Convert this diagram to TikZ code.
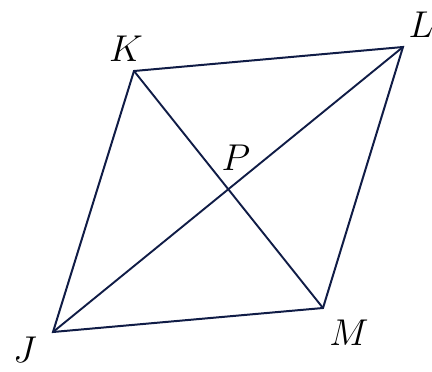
\documentclass[tikz,border=0pt]{standalone}
\usepackage{amsmath}
\usepackage{tikz}
\usetikzlibrary{positioning}
\definecolor{edgenavy}{RGB}{16,28,70}
\tikzset{
  side/.style ={draw=edgenavy, line width=2pt, line join=miter},
  diag/.style ={draw=edgenavy, line width=1.9pt},
  vlbl/.style ={font=\Huge, scale=1.5, inner sep=0pt},
}
\begin{document}
\begin{tikzpicture}[x=1pt, y=-1pt]
  \useasboundingbox (0,0) rectangle (432,372);
  % vertices
  \coordinate (J) at (53,332);
  \coordinate (K) at (134,71);
  \coordinate (L) at (403,47);
  \coordinate (M) at (323,308);
  \coordinate (P) at (intersection of J--L and K--M);
  % rhombus and diagonals
  \draw[side] (J) -- (K) -- (L) -- (M) -- cycle;
  \draw[diag] (J) -- (L);
  \draw[diag] (K) -- (M);
  % labels
  \node[vlbl] (lK) at (126,49)  {$K$};
  \node[vlbl] (lL) at (421,25)  {$L$};
  \node[vlbl] (lP) at (236,158) {$P$};
  \node[vlbl] (lM) at (349,333) {$M$};
  \node[vlbl] (lJ) at (25,350)  {$J$};
\end{tikzpicture}
\end{document}
